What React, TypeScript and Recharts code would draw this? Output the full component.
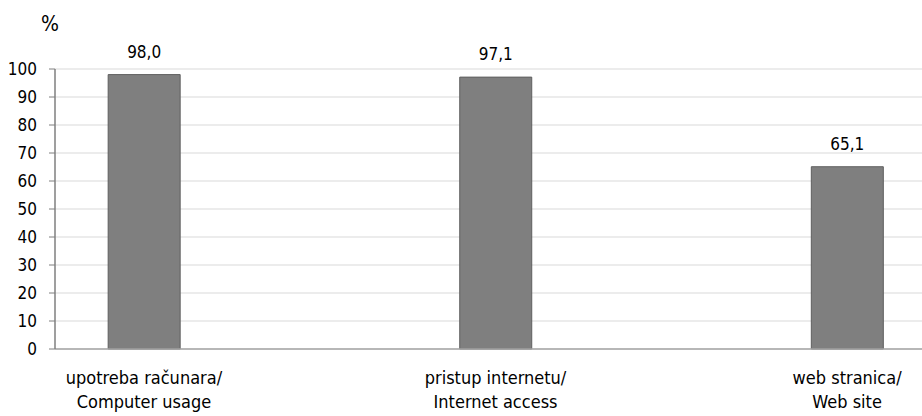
import { Bar, BarChart, CartesianGrid, LabelList, XAxis, YAxis } from "recharts";

const categoriesLocal = ["upotreba računara/", "pristup internetu/", "web stranica/"];
const categoriesEnglish = ["Computer usage", "Internet access", "Web site"];
const values = [98.0, 97.1, 65.1];
const yTicks = [0, 10, 20, 30, 40, 50, 60, 70, 80, 90, 100];

const FONT = '"Liberation Sans Narrow", "Arial Narrow", "DejaVu Sans Condensed", sans-serif';

const data = values.map((v, i) => ({ idx: i, value: v }));

function CategoryTick(props: any) {
  const { x, y, payload } = props;
  const i = payload.value as number;
  return (
    <text x={x} y={y} textAnchor="middle" fontFamily={FONT} fontSize={18} fill="#000">
      <tspan x={x} dy={27}>{categoriesLocal[i]}</tspan>
      <tspan x={x} dy={24}>{categoriesEnglish[i]}</tspan>
    </text>
  );
}

export default function App() {
  return (
    <div style={{ position: "absolute", left: 0, top: 0, width: 922, height: 416, background: "#fff" }}>
      <span
        style={{ position: "absolute", left: 41, top: 12, fontFamily: FONT, fontSize: 21, color: "#000" }}
      >
        %
      </span>
      <BarChart
        width={922}
        height={416}
        data={data}
        margin={{ top: 69, right: 0, bottom: 0, left: 0 }}
      >
        <CartesianGrid vertical={false} stroke="#d9d9d9" />
        <XAxis
          type="number"
          dataKey="idx"
          domain={[-0.253, 2.213]}
          ticks={[0, 1, 2]}
          allowDataOverflow
          tickLine={false}
          axisLine={{ stroke: "#a6a6a6", strokeWidth: 1.5 }}
          tick={<CategoryTick />}
          height={67}
          interval={0}
        />
        <YAxis
          domain={[0, 100]}
          ticks={yTicks}
          width={55}
          interval={0}
          tickSize={6}
          tickMargin={12}
          tickLine={{ stroke: "#7f7f7f" }}
          axisLine={{ stroke: "#7f7f7f", strokeWidth: 1.5 }}
          tick={{ fontFamily: FONT, fontSize: 17, fill: "#000" }}
        />
        <Bar dataKey="value" fill="#7f7f7f" stroke="#5f5f5f" barSize={72} isAnimationActive={false}>
          <LabelList
            dataKey="value"
            position="top"
            offset={17}
            formatter={(v: any) => Number(v).toFixed(1).replace(".", ",")}
            style={{ fontFamily: FONT, fontSize: 17, fill: "#000" }}
          />
        </Bar>
      </BarChart>
    </div>
  );
}
